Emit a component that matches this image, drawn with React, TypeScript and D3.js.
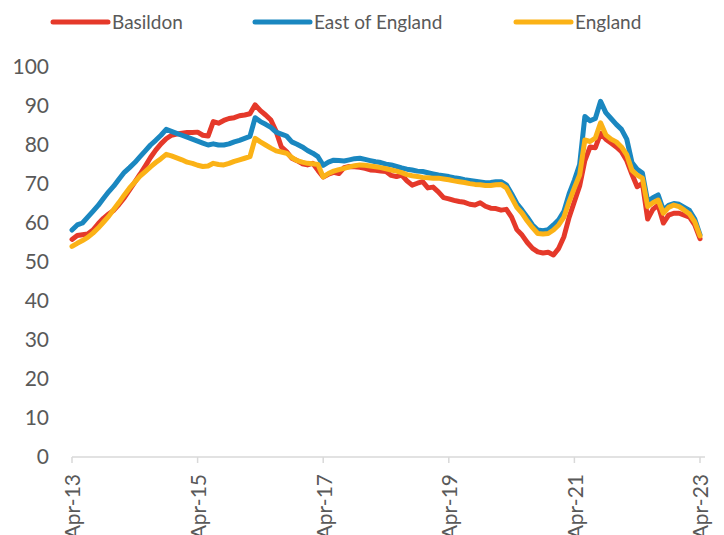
import React, { useEffect, useRef } from 'react';
import * as d3 from 'd3';

// monthly values, Apr-13 .. Apr-23 (121 months)
const basildon = [
  55.8, 56.8, 57, 57.2, 58.2, 59.8, 61.2, 62.3, 63.3, 64.8, 66.5, 68.5, 70.5, 72.5, 74.6, 76.8, 78.7, 80.3, 81.6, 82.5,
  82.8, 83, 83.2, 83.2, 83.3, 82.5, 82.3, 86, 85.6, 86.3, 86.8, 87, 87.5, 87.7, 88, 90.3, 88.8, 87.7, 86.4, 83.5,
  79.5, 78.3, 76.6, 76, 75.2, 74.9, 75.3, 73.5, 71.8, 72.5, 73, 72.7, 74.2, 74.5, 74.4, 74.3, 74, 73.6, 73.5, 73.3,
  73.2, 72.2, 71.9, 72.3, 70.8, 69.7, 70.2, 70.6, 69, 69.2, 68, 66.5, 66.2, 65.8, 65.5, 65.3, 64.8, 64.6, 65.2, 64.3,
  63.8, 63.7, 63.3, 63.5, 61.5, 58.3, 56.9, 55, 53.5, 52.6, 52.3, 52.5, 51.8, 53.5, 56.5, 61.5, 65.5, 69.5, 76, 79.5,
  79.3, 83, 81.5, 80.5, 79.5, 78.3, 76, 72.5, 69.3, 70.2, 61, 63.5, 64.6, 60, 62, 62.5, 62.5, 62, 61.5, 59.5,
  56,
];

const eastOfEngland = [
  58.2, 59.5, 60, 61.5, 63, 64.5, 66.3, 68, 69.5, 71.3, 73, 74.2, 75.5, 77, 78.5, 80, 81.2, 82.5, 84, 83.5,
  83, 82.5, 82, 81.5, 81, 80.5, 80, 80.3, 80, 80, 80.3, 80.8, 81.2, 81.7, 82.2, 87, 86, 85.3, 84.5, 83.3,
  82.8, 82.3, 80.8, 80.2, 79.5, 78.6, 77.9, 77, 74.8, 75.6, 76.1, 76, 75.9, 76.2, 76.5, 76.6, 76.3, 76, 75.7, 75.5,
  75.1, 74.9, 74.5, 74.1, 73.8, 73.6, 73.3, 73.2, 72.9, 72.6, 72.3, 72.1, 71.9, 71.6, 71.4, 71.1, 70.9, 70.7, 70.5, 70.3,
  70.4, 70.6, 70.6, 69.8, 67.5, 65, 63.3, 61.5, 59.5, 58.2, 58, 58.3, 59.5, 60.8, 63, 67.5, 71, 75, 87.3, 86.2,
  86.8, 91.2, 88.3, 86.8, 85.3, 84, 81.5, 75.5, 73.8, 72.8, 65.5, 66.5, 67.2, 63.3, 64.5, 65, 64.8, 64, 63.2, 61,
  57,
];

const england = [
  54, 54.8, 55.5, 56.3, 57.4, 58.7, 60.2, 61.7, 63.5, 65.3, 67.2, 69, 70.5, 72, 73.2, 74.4, 75.5, 76.5, 77.6, 77.2,
  76.7, 76.2, 75.6, 75.3, 74.8, 74.5, 74.6, 75.3, 75, 74.9, 75.3, 75.8, 76.2, 76.6, 77, 81.7, 80.8, 80, 79.2, 78.5,
  78.2, 77.9, 76.8, 76, 75.6, 75.3, 75.2, 75, 71.8, 72.7, 73.3, 73.7, 74, 74.4, 74.7, 74.9, 74.8, 74.6, 74.4, 74.2,
  73.9, 73.6, 73.3, 72.9, 72.4, 72.1, 71.9, 71.7, 71.6, 71.5, 71.5, 71.3, 71.1, 70.8, 70.6, 70.4, 70.1, 69.9, 69.8, 69.6,
  69.6, 69.8, 69.9, 69, 66.5, 64, 62.5, 60.5, 58.8, 57.3, 57.2, 57.3, 58.2, 59.5, 61.5, 65.5, 69, 72.3, 81.3, 80.9,
  81.8, 85.7, 82.6, 81.5, 80.8, 79.5, 77.5, 73.5, 72.3, 71.5, 64.2, 65.2, 65.9, 62.5, 64, 64.6, 64.2, 63.3, 62.3, 60.3,
  56.7,
];

const seriesNames = ['Basildon', 'East of England', 'England'];
const seriesColors = ['#E5392A', '#1A87C0', '#FBB216'];
const tickLabels = ['Apr-13', 'Apr-15', 'Apr-17', 'Apr-19', 'Apr-21', 'Apr-23'];
const yTicks = [0, 10, 20, 30, 40, 50, 60, 70, 80, 90, 100];

const W = 724;
const H = 535;
const FONT = 'Lato, "Open Sans", sans-serif';
const GREY = '#595959';

const App = () => {
  const ref = useRef<SVGSVGElement>(null);

  useEffect(() => {
    const svg = d3.select(ref.current);
    svg.selectAll('*').remove();

    const x = d3.scaleLinear().domain([0, basildon.length - 1]).range([72, 700]);
    const y = d3.scaleLinear().domain([0, 100]).range([457, 67]);

    // y labels
    svg.append('g')
      .selectAll('text')
      .data(yTicks)
      .enter()
      .append('text')
      .attr('x', 49)
      .attr('y', d => y(d))
      .attr('dy', '0.35em')
      .attr('text-anchor', 'end')
      .attr('font-family', FONT)
      .attr('font-size', 21)
      .attr('fill', GREY)
      .text(d => d);

    // x axis
    const ax = svg.append('g');
    ax.append('line')
      .attr('x1', 72).attr('x2', 705)
      .attr('y1', 457).attr('y2', 457)
      .attr('stroke', '#D9D9D9').attr('stroke-width', 1.5);

    const tickIdx = tickLabels.map((_, i) => i * 24);
    ax.selectAll('line.tick')
      .data(tickIdx)
      .enter()
      .append('line')
      .attr('class', 'tick')
      .attr('x1', d => x(d)).attr('x2', d => x(d))
      .attr('y1', 457).attr('y2', 463)
      .attr('stroke', '#D9D9D9').attr('stroke-width', 1.5);

    ax.selectAll('text')
      .data(tickIdx)
      .enter()
      .append('text')
      .attr('transform', d => `translate(${x(d) + 1},474) rotate(-90)`)
      .attr('dy', '0.35em')
      .attr('text-anchor', 'end')
      .attr('font-family', FONT)
      .attr('font-size', 21)
      .attr('fill', GREY)
      .text((d, i) => tickLabels[i]);

    // lines
    const line = d3.line<number>()
      .x((d, i) => x(i))
      .y(d => y(d));

    const allSeries = [basildon, eastOfEngland, england];
    svg.append('g')
      .selectAll('path')
      .data(allSeries)
      .enter()
      .append('path')
      .attr('d', d => line(d))
      .attr('fill', 'none')
      .attr('stroke', (d, i) => seriesColors[i])
      .attr('stroke-width', 5)
      .attr('stroke-linejoin', 'round')
      .attr('stroke-linecap', 'round');

    // legend
    const legendX = [53, 255, 516];
    const lg = svg.append('g')
      .selectAll('g')
      .data(seriesNames)
      .enter()
      .append('g')
      .attr('transform', (d, i) => `translate(${legendX[i]},22)`);
    lg.append('line')
      .attr('x1', 0).attr('x2', 55)
      .attr('stroke', (d, i) => seriesColors[i])
      .attr('stroke-width', 5)
      .attr('stroke-linecap', 'round');
    lg.append('text')
      .attr('x', 59)
      .attr('dy', '0.35em')
      .attr('font-family', FONT)
      .attr('font-size', 19)
      .attr('fill', GREY)
      .text(d => d);
  }, []);

  return (
    <svg
      ref={ref}
      width={W}
      height={H}
      style={{ position: 'absolute', left: 0, top: 0, background: '#fff', display: 'block' }}
    />
  );
};

export default App;
